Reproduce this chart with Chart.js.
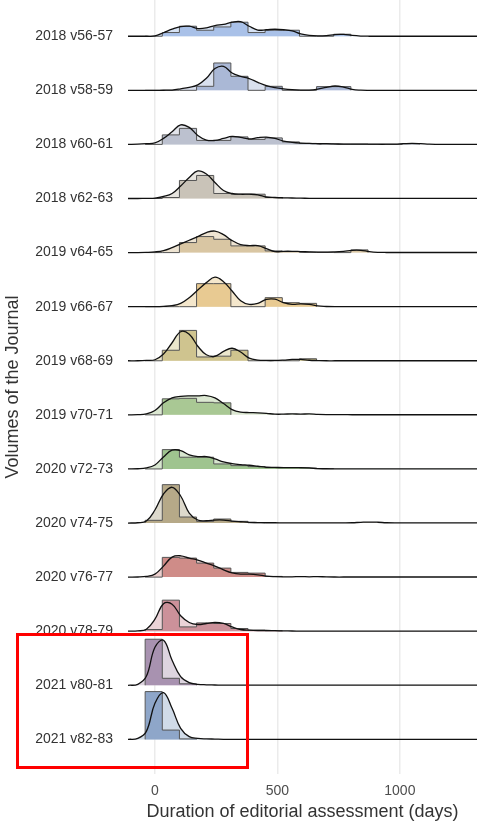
<!DOCTYPE html>
<html>
<head>
<meta charset="utf-8">
<script src="https://cdn.jsdelivr.net/npm/chart.js@4.4.1/dist/chart.umd.min.js"></script>
<style>
  html, body { margin: 0; padding: 0; background: #fff; }
  #wrap { position: relative; width: 477px; height: 829px; }
  #box { position: absolute; left: 16px; top: 633px; width: 233px; height: 136px;
         box-sizing: border-box; border: 3.5px solid #f00; }
</style>
</head>
<body>
<div id="wrap">
  <canvas id="chart" width="477" height="829"></canvas>
  <div id="box"></div>
</div>
<script>
// volumes, top to bottom
var volumes = ['2018 v56-57', '2018 v58-59', '2018 v60-61', '2018 v62-63',
  '2019 v64-65', '2019 v66-67', '2019 v68-69', '2019 v70-71',
  '2020 v72-73', '2020 v74-75', '2020 v76-77', '2020 v78-79',
  '2021 v80-81', '2021 v82-83'];

var xTicks = [0, 500, 1000];

// histogram bin edges (days)
var binEdges = [-40, 30, 100, 170, 240, 310, 380, 450, 520, 590, 660, 730, 800, 870, 940, 1010, 1080, 1150];

// histogram heights per volume (54 = one ridge gap)
var hist_v56 = [0, 3.7, 10, 6, 9.3, 14, 3.7, 6, 6, 0, 0, 2, 0, 0, 0, 0, 0];
var hist_v58 = [0, 0, 0, 4, 27.3, 14, 0, 4, 0, 0, 3.7, 3.7, 0, 0, 0, 0, 0];
var hist_v60 = [0, 9.5, 16, 4, 4, 7.5, 5, 6.5, 2.5, 1, 0.5, 0.3, 0.3, 0, 0, 0.7, 0];
var hist_v62 = [0, 1, 18, 23, 5, 4.3, 4.3, 1, 0, 0, 0, 0, 0, 0, 0, 0, 0];
var hist_v64 = [0, 0, 10, 16, 13.3, 6.7, 6.7, 1.7, 1, 0.3, 0.3, 0, 2.7, 0, 0, 0, 0];
var hist_v66 = [0, 0, 0, 23, 23, 0, 0, 9, 4, 3.3, 0, 0, 0, 0, 0, 0, 0];
var hist_v68 = [0, 10.5, 30.3, 3.8, 4.6, 10.5, 0, 0, 0, 2, 0, 0, 0, 0, 0, 0, 0];
var hist_v70 = [0, 16, 16.5, 12.5, 12, 0, 0, 0, 0, 0, 0, 0, 0, 0, 0, 0, 0];
var hist_v72 = [0, 19.3, 11.7, 11.7, 5, 3.3, 2.3, 1.3, 1.3, 1, 0.3, 0, 0, 0, 0, 0, 0];
var hist_v74 = [2.7, 38.3, 6, 1.7, 4, 1.7, 0.3, 0, 0, 0, 0, 0, 0, 0, 0, 0, 0];
var hist_v76 = [0, 19.7, 19, 14, 9, 4.7, 4, 0.7, 0, 0, 0, 0, 0, 0, 0, 0, 0];
var hist_v78 = [1.7, 31, 4.3, 8.3, 7.7, 2.7, 1, 0.5, 0, 0, 0, 0, 0, 0, 0, 0, 0];
var hist_v80 = [46, 7, 1.5, 0, 0, 0, 0, 0, 0, 0, 0, 0, 0, 0, 0, 0, 0];
var hist_v82 = [47.7, 9.3, 0.5, 0, 0, 0, 0, 0, 0, 0, 0, 0, 0, 0, 0, 0, 0];

// density curves, read at these days
var densX = [-110, -70, -35, 0, 35, 70, 105, 140, 175, 210, 245, 280, 315, 350, 385, 420, 455, 490, 525, 560,
  595, 630, 665, 700, 735, 770, 805, 840, 875, 910, 945, 980, 1015, 1050, 1085, 1120, 1155, 1190, 1225, 1260, 1295, 1315];

var dens_v56 = [0, 0, 0, 0.3, 3.5, 7, 9.7, 10, 7.7, 8.3, 10.7, 11.8, 14, 14.5, 10, 6.2, 6.5, 7, 6.5, 5.3,
  2.3, 0.8, 0.3, 0.6, 1.7, 1.8, 0.8, 0.2, 0, 0, 0, 0, 0, 0, 0, 0, 0, 0, 0, 0, 0, 0];
var dens_v58 = [0, 0, 0, 0, 0.1, 0.3, 1.5, 3, 5.5, 12, 21.7, 24, 17.3, 14, 11.7, 8, 4.7, 2.7, 1.5, 0.7,
  0.3, 0.3, 1.3, 3, 4.3, 3.3, 1, 0.2, 0, 0, 0, 0, 0, 0, 0, 0, 0, 0, 0, 0, 0, 0];
var dens_v60 = [0, 0.2, 0.7, 1.5, 6, 12.7, 19.5, 17, 9, 4.3, 4, 6, 8, 7, 5.5, 6.7, 7.3, 6, 3.3, 2,
  1.3, 1, 0.7, 0.7, 0.5, 0.3, 0.3, 0.3, 0.3, 0.2, 0.2, 0.3, 0.7, 1, 0.7, 0.2, 0.1, 0.1, 0.1, 0.1, 0.1, 0.1];
var dens_v62 = [0, 0, 0.1, 0.3, 2, 5, 12.5, 21, 27.5, 24.5, 16, 8, 5, 4.3, 4.3, 3.7, 1.5, 1, 0.7, 0.5,
  0.3, 0.2, 0.2, 0.2, 0.2, 0.2, 0.2, 0.2, 0.2, 0.2, 0.2, 0.2, 0.2, 0.2, 0.2, 0.2, 0.2, 0.2, 0.2, 0.2, 0.2, 0.2];
var dens_v64 = [0, 0, 0.2, 0.7, 2, 5, 8.7, 12.3, 16, 20, 21.5, 18, 12, 8, 7, 7, 4, 1, 1.3, 1.3,
  1, 0.7, 0.5, 0.5, 0.7, 1.3, 2.3, 2.3, 1, 0.3, 0.1, 0.1, 0.1, 0.1, 0.1, 0.1, 0.1, 0.1, 0.1, 0.1, 0.1, 0.1];
var dens_v66 = [0, 0, 0, 0, 0.3, 1, 3.3, 9, 16.7, 24, 29.5, 25, 15.7, 6, 2.3, 3.3, 7.3, 7.5, 4, 2.3,
  2.7, 2.3, 0.7, 0.2, 0, 0, 0, 0, 0, 0, 0, 0, 0, 0, 0, 0, 0, 0, 0, 0, 0, 0];
var dens_v68 = [0, 0, 0.3, 1, 6.7, 18, 29, 26.5, 14.5, 6, 4.5, 9.3, 12.5, 8.7, 2.7, 0.7, 0.3, 0.3, 0.7, 1.3,
  1.3, 0.5, 0.2, 0, 0, 0, 0, 0, 0, 0, 0, 0, 0, 0, 0, 0, 0, 0, 0, 0, 0, 0];
var dens_v70 = [0, 0.2, 1, 4.3, 12, 17, 18.5, 19, 19, 19.3, 17, 11.3, 5.3, 2.7, 2.3, 2, 1.5, 0.7, 0.7, 1,
  0.7, 1, 0.5, 0.3, 0.3, 0.2, 0.1, 0.1, 0.1, 0.1, 0.1, 0.1, 0.1, 0.1, 0.1, 0.1, 0.1, 0.1, 0.1, 0.1, 0.1, 0.1];
var dens_v72 = [0, 0.2, 1, 4, 12, 18.7, 18.3, 14, 12.3, 12.3, 10, 7, 5.3, 4.3, 3.7, 2.7, 1.7, 1.5, 1.3, 1.3,
  1.3, 1, 0.3, 0.2, 0.1, 0.1, 0.1, 0.1, 0.1, 0.1, 0.1, 0.1, 0.1, 0.1, 0.1, 0.1, 0.1, 0.1, 0.1, 0.1, 0.1, 0.1];
var dens_v74 = [0, 0.3, 2, 13, 29, 35.7, 27, 10, 3, 2.3, 3, 3, 2, 1.3, 0.7, 0.5, 0.3, 0.3, 0.2, 0.2,
  0.2, 0.2, 0.2, 0.2, 0.2, 0.2, 0.3, 0.7, 1, 0.8, 0.3, 0.1, 0.1, 0.1, 0.1, 0.1, 0.1, 0.1, 0.1, 0.1, 0.1, 0.1];
var dens_v76 = [0, 0.1, 0.7, 3, 11, 20, 21.3, 19, 17, 14, 11, 7.3, 4.3, 3, 3, 2.3, 1, 0.5, 0.3, 0.3,
  0.5, 0.3, 0.5, 0.2, 0.1, 0.1, 0.1, 0.1, 0.1, 0.1, 0.1, 0.1, 0.1, 0.1, 0.1, 0.1, 0.1, 0.1, 0.1, 0.1, 0.1, 0.1];
var dens_v78 = [0, 0.3, 2, 12, 27.5, 27, 15.5, 8.7, 6.7, 7.7, 8.7, 7.7, 4.3, 1.7, 1, 0.7, 0.7, 0.5, 0.3, 0.2,
  0.1, 0.1, 0.1, 0.1, 0.1, 0.1, 0.1, 0.1, 0.1, 0.1, 0.1, 0.1, 0.1, 0.1, 0.1, 0.1, 0.1, 0.1, 0.1, 0.1, 0.1, 0.1];
var dens_v80 = [0, 1, 9, 38, 45, 25, 8.7, 2.7, 1, 0.5, 0.3, 0.1, 0.1, 0.1, 0.1, 0.1, 0.1, 0.1, 0.1, 0.1,
  0.1, 0.1, 0.1, 0.1, 0.1, 0.1, 0.1, 0.1, 0.1, 0.1, 0.1, 0.1, 0.1, 0.1, 0.1, 0.1, 0.1, 0.1, 0.1, 0.1, 0.1, 0.1];
var dens_v82 = [0, 1, 8, 36, 46.7, 31, 11, 2.7, 1, 0.5, 0.3, 0.1, 0.1, 0.1, 0.1, 0.1, 0.1, 0.1, 0.1, 0.1,
  0.1, 0.1, 0.1, 0.1, 0.1, 0.1, 0.1, 0.1, 0.1, 0.1, 0.1, 0.1, 0.1, 0.1, 0.1, 0.1, 0.1, 0.1, 0.1, 0.1, 0.1, 0.1];

var histAll = [hist_v56, hist_v58, hist_v60, hist_v62, hist_v64, hist_v66, hist_v68,
  hist_v70, hist_v72, hist_v74, hist_v76, hist_v78, hist_v80, hist_v82];
var densAll = [dens_v56, dens_v58, dens_v60, dens_v62, dens_v64, dens_v66, dens_v68,
  dens_v70, dens_v72, dens_v74, dens_v76, dens_v78, dens_v80, dens_v82];

var histColors = ['#a9c1e8', '#aab8d6', '#bcc1cf', '#c9c3b8', '#d9c6a3', '#e8ca92', '#cfc48f',
  '#a9c894', '#9fc48f', '#b6a988', '#cf8c88', '#cc919a', '#a892b0', '#8ea6c9'];
var densColors = ['#d6e2f4', '#d9e0ee', '#e2e4ea', '#e8e5df', '#eee4d2', '#f4e7cc', '#ebe7cc',
  '#dce8d2', '#d7e6cf', '#ddd9cc', '#eccfcd', '#ebd3d7', '#ddd4df', '#d0dbe8'];

var SCALE = 54;
var n = volumes.length;
var datasets = [];

volumes.forEach(function(name, r) {
  var base = n - 1 - r;
  var dens = densAll[r].map(function(v, j) { return {x: densX[j], y: base + v / SCALE}; });
  var h = histAll[r].slice();
  while (h.length && h[h.length - 1] === 0) h.pop();
  var hpts = [{x: binEdges[0], y: base}];
  h.forEach(function(v, k) { hpts.push({x: binEdges[k], y: base + v / SCALE}); });
  hpts.push({x: binEdges[h.length], y: base});

  datasets.push({ data: dens, fill: {value: base}, backgroundColor: densColors[r],
    borderColor: 'rgba(0,0,0,0)', borderWidth: 1, tension: 0.4, order: 1000 - r * 3 });
  datasets.push({ data: hpts, stepped: 'before', fill: {value: base}, backgroundColor: histColors[r],
    borderColor: '#555', borderWidth: 1, order: 999 - r * 3 });
  datasets.push({ data: dens, fill: false, borderColor: '#111', borderWidth: 1.3,
    tension: 0.4, order: 998 - r * 3 });
});

Chart.defaults.font.family = '"Liberation Sans", Arial, Helvetica, sans-serif';

var ctx = document.getElementById('chart').getContext('2d');
var chart = new Chart(ctx, {
  type: 'line',
  data: { datasets: datasets },
  options: {
    responsive: false,
    animation: false,
    elements: { point: { radius: 0 } },
    plugins: { legend: { display: false }, tooltip: { enabled: false } },
    layout: { padding: 0 },
    scales: {
      x: {
        type: 'linear', min: -110, max: 1315,
        afterBuildTicks: function(s) { s.ticks = xTicks.map(function(v) { return {value: v}; }); },
        afterFit: function(s) { s.height = 55; s.paddingLeft = 0; s.paddingRight = 0; },
        grid: { color: '#ebebeb', lineWidth: 1.5, drawTicks: false },
        border: { display: false },
        ticks: { color: '#4d4d4d', font: { size: 14 }, padding: 9, maxRotation: 0,
          callback: function(v) { return String(v); } },
        title: { display: true, text: 'Duration of editorial assessment (days)', color: '#333',
          font: { size: 18 }, padding: { top: 0, bottom: 6 } }
      },
      y: {
        type: 'linear', min: -0.64, max: 13.67,
        afterBuildTicks: function(s) { s.ticks = volumes.map(function(_, i) { return {value: i}; }); },
        afterFit: function(s) { s.width = 128; s.paddingTop = 0; s.paddingBottom = 0; },
        grid: { display: false, drawTicks: false },
        border: { display: false },
        ticks: { color: '#333', font: { size: 14 }, padding: 15,
          callback: function(v) { return volumes[n - 1 - v]; } },
        title: { display: true, text: 'Volumes of the Journal', color: '#333',
          font: { size: 18 }, padding: { top: 2, bottom: 0 } }
      }
    }
  }
});
</script>
</body>
</html>
